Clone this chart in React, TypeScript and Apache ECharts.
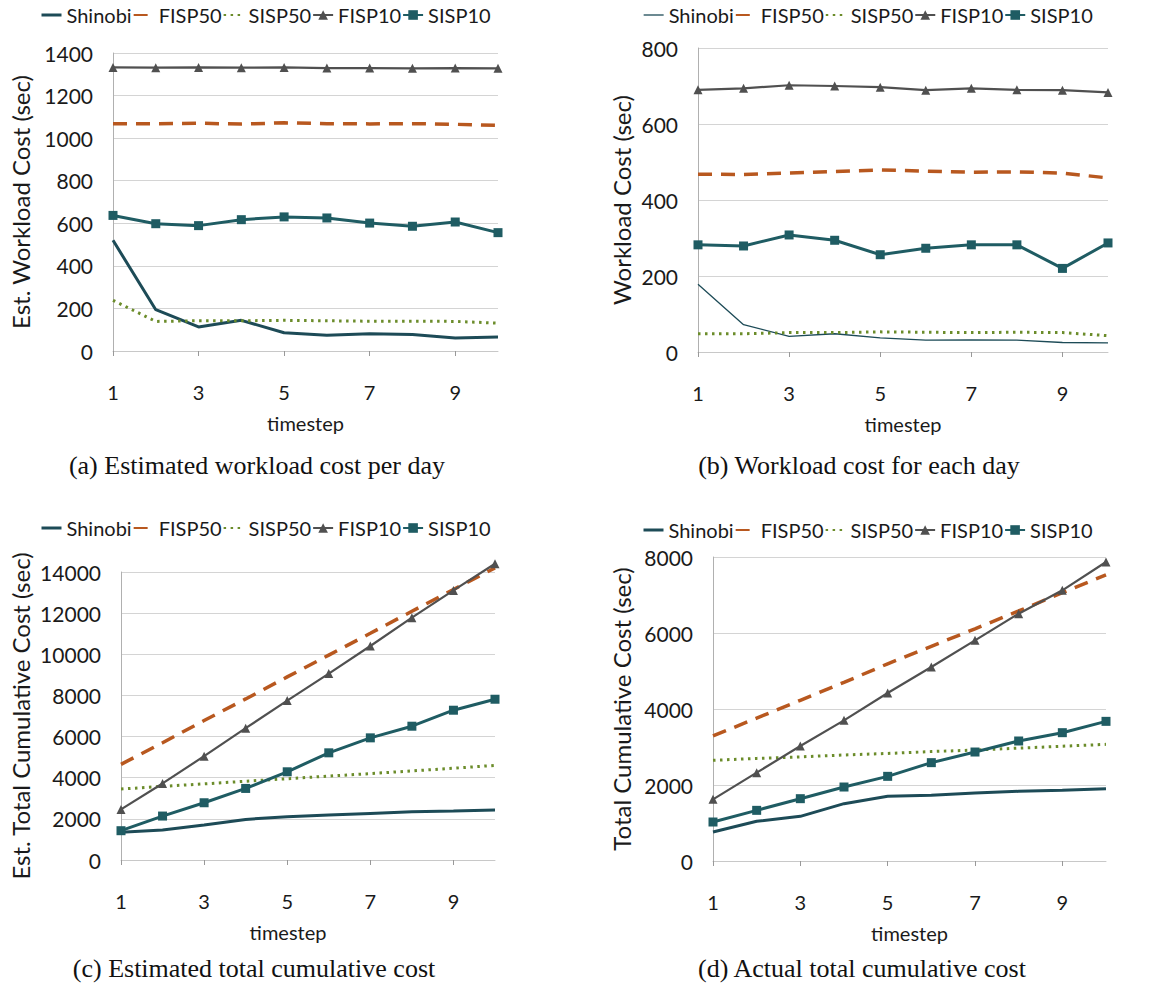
import React, { useEffect, useRef } from 'react';
import * as echarts from 'echarts';

// ---------- data ----------
const timesteps = ['1', '2', '3', '4', '5', '6', '7', '8', '9', '10'];
const seriesNames = ['Shinobi', 'FISP50', 'SISP50', 'FISP10', 'SISP10'];

// (a) Estimated workload cost per day
const estDailyShinobi = [520, 194, 113, 144, 86, 74, 81, 77, 61, 66];
const estDailyFISP50 = [1068, 1067, 1070, 1066, 1072, 1068, 1067, 1068, 1065, 1060];
const estDailySISP50 = [238, 139, 142, 142, 144, 142, 140, 140, 139, 131];
const estDailyFISP10 = [1332, 1331, 1332, 1331, 1332, 1329, 1329, 1328, 1329, 1328];
const estDailySISP10 = [637, 598, 589, 617, 630, 625, 601, 586, 606, 556];

// (b) Workload cost for each day
const actDailyShinobi = [178, 72, 41, 48, 37, 31, 32, 31, 25, 24];
const actDailyFISP50 = [468, 467, 471, 475, 479, 476, 473, 474, 471, 458];
const actDailySISP50 = [48, 48, 51, 51, 53, 52, 51, 52, 51, 43];
const actDailyFISP10 = [690, 694, 702, 700, 697, 689, 694, 690, 689, 683];
const actDailySISP10 = [282, 279, 308, 294, 256, 273, 282, 282, 220, 287];

// (c) Estimated total cumulative cost
const estCumShinobi = [1343, 1456, 1699, 1974, 2103, 2184, 2265, 2346, 2378, 2427];
const estCumFISP50 = [4650, 5700, 6780, 7830, 8900, 9960, 11020, 12090, 13150, 14200];
const estCumSISP50 = [3450, 3580, 3700, 3830, 3950, 4080, 4200, 4330, 4460, 4600];
const estCumFISP10 = [2459, 3721, 5048, 6407, 7750, 9061, 10404, 11779, 13106, 14400];
const estCumSISP10 = [1424, 2136, 2783, 3479, 4288, 5210, 5938, 6504, 7281, 7815];

// (d) Actual total cumulative cost
const actCumShinobi = [763, 1044, 1175, 1509, 1702, 1728, 1789, 1833, 1860, 1904];
const actCumFISP50 = [3290, 3760, 4230, 4700, 5190, 5650, 6110, 6580, 7060, 7530];
const actCumSISP50 = [2650, 2700, 2740, 2790, 2830, 2880, 2920, 2970, 3020, 3070];
const actCumFISP10 = [1623, 2325, 3026, 3702, 4421, 5105, 5807, 6509, 7123, 7868];
const actCumSISP10 = [1026, 1333, 1640, 1947, 2228, 2588, 2868, 3158, 3377, 3675];

// axis ranges [min, max, interval]
const yRangeA = [0, 1400, 200];
const yRangeB = [0, 800, 200];
const yRangeC = [0, 14000, 2000];
const yRangeD = [0, 8000, 2000];

const yNames = [
  'Est. Workload Cost (sec)',
  'Workload Cost (sec)',
  'Est. Total Cumulative Cost (sec)',
  'Total Cumulative Cost (sec)',
];
const xName = 'timestep';
const captions = [
  '(a) Estimated workload cost per day',
  '(b) Workload cost for each day',
  '(c) Estimated total cumulative cost',
  '(d) Actual total cumulative cost',
];

// ---------- styling / layout ----------
const SANS = 'Lato, "Open Sans", sans-serif';
const SERIF = '"Liberation Serif", "DejaVu Serif", serif';
const TEXT = '#1a1a1a';

const colors: Record<string, string> = {
  Shinobi: '#1d4b57',
  FISP50: '#b8581f',
  SISP50: '#6b8c2a',
  FISP10: '#505050',
  SISP10: '#1f5c63',
};

const panels = [
  {
    grid: { left: 113, top: 53, width: 385, height: 298 },
    range: yRangeA, nameGap: 81, legend: { left: 40, top: 5 }, shinobiWidth: 3,
    xNamePad: [0, 0, 0, 0],
    data: [estDailyShinobi, estDailyFISP50, estDailySISP50, estDailyFISP10, estDailySISP10],
    caption: { x: 257, y: 465 },
  },
  {
    grid: { left: 698, top: 48, width: 410, height: 304 },
    range: yRangeB, nameGap: 65, legend: { left: 643, top: 5 }, shinobiWidth: 1.3,
    xNamePad: [0, 0, 0, 0],
    data: [actDailyShinobi, actDailyFISP50, actDailySISP50, actDailyFISP10, actDailySISP10],
    caption: { x: 859, y: 465 },
  },
  {
    grid: { left: 121, top: 572, width: 374, height: 288 },
    range: yRangeC, nameGap: 89, legend: { left: 40, top: 518 }, shinobiWidth: 3,
    xNamePad: [0, 40, 0, 0],
    data: [estCumShinobi, estCumFISP50, estCumSISP50, estCumFISP10, estCumSISP10],
    caption: { x: 254, y: 968 },
  },
  {
    grid: { left: 713, top: 557, width: 393, height: 304 },
    range: yRangeD, nameGap: 80, legend: { left: 642, top: 520 }, shinobiWidth: 3,
    xNamePad: [0, 0, 0, 0],
    data: [actCumShinobi, actCumFISP50, actCumSISP50, actCumFISP10, actCumSISP10],
    caption: { x: 862, y: 968 },
  },
];

function seriesStyle(name: string, shinobiWidth: number) {
  switch (name) {
    case 'Shinobi':
      return { symbol: 'none', lineStyle: { color: colors.Shinobi, width: shinobiWidth } };
    case 'FISP50':
      return { symbol: 'none', lineStyle: { color: colors.FISP50, width: 3.5, type: [14, 9] } };
    case 'SISP50':
      return { symbol: 'none', lineStyle: { color: colors.SISP50, width: 3, type: [2.5, 4.5] } };
    case 'FISP10':
      return { symbol: 'triangle', symbolSize: 9, lineStyle: { color: colors.FISP10, width: 2.2 } };
    default:
      return { symbol: 'rect', symbolSize: 9, lineStyle: { color: colors.SISP10, width: 3 } };
  }
}

function buildOption() {
  const grid = panels.map((p) => ({ ...p.grid, containLabel: false }));
  const xAxis = panels.map((p, i) => ({
    type: 'category',
    gridIndex: i,
    data: timesteps,
    boundaryGap: false,
    name: xName,
    nameLocation: 'middle',
    nameGap: 62,
    nameTextStyle: { fontFamily: SANS, fontSize: 20, color: TEXT, padding: p.xNamePad },
    axisLine: { lineStyle: { color: '#c8c8c8', width: 1 } },
    axisTick: { show: true, interval: 1, length: 5, lineStyle: { color: '#999' } },
    axisLabel: { interval: 1, margin: 31, fontFamily: SANS, fontSize: 20, color: TEXT },
    splitLine: { show: false },
  }));
  const yAxis = panels.map((p, i) => ({
    type: 'value',
    gridIndex: i,
    min: p.range[0],
    max: p.range[1],
    interval: p.range[2],
    name: yNames[i],
    nameLocation: 'middle',
    nameGap: p.nameGap,
    nameTextStyle: { fontFamily: SANS, fontSize: 24, color: TEXT },
    axisLine: { show: true, lineStyle: { color: '#b0b0b0', width: 1 } },
    axisTick: { show: false },
    axisLabel: {
      margin: 20,
      fontFamily: SANS,
      fontSize: 21,
      color: TEXT,
      formatter: (v: number) => String(v),
    },
    splitLine: { show: true, lineStyle: { color: '#d4d4d4', width: 1 } },
  }));
  const series: any[] = [];
  panels.forEach((p, i) => {
    seriesNames.forEach((name, k) => {
      series.push({
        type: 'line',
        name,
        xAxisIndex: i,
        yAxisIndex: i,
        data: p.data[k],
        clip: false,
        z: name === 'SISP10' ? 5 : 3,
        itemStyle: { color: colors[name] },
        ...seriesStyle(name, p.shinobiWidth),
      });
    });
  });
  const legend = panels.map((p) => ({
    left: p.legend.left,
    top: p.legend.top,
    orient: 'horizontal',
    itemWidth: 20,
    itemHeight: 12,
    itemGap: 1,
    padding: 0,
    textStyle: { fontFamily: SANS, fontSize: 20, color: TEXT },
    data: seriesNames.map((n) => {
      if (n === 'Shinobi')
        return { name: n, itemStyle: { opacity: 0 }, lineStyle: { width: p.shinobiWidth } };
      if (n === 'FISP50' || n === 'SISP50')
        return { name: n, itemStyle: { opacity: 0 } };
      return { name: n };
    }),
  }));
  const graphic = panels.map((p, i) => ({
    type: 'text',
    x: p.caption.x,
    y: p.caption.y,
    style: {
      text: captions[i],
      fontFamily: SERIF,
      fontSize: 26,
      fill: '#111',
      textAlign: 'center',
      textVerticalAlign: 'middle',
    },
  }));
  return {
    animation: false,
    backgroundColor: '#ffffff',
    grid,
    xAxis,
    yAxis,
    series,
    legend,
    graphic,
  };
}

export default function App() {
  const ref = useRef<HTMLDivElement>(null);
  useEffect(() => {
    if (!ref.current) return;
    const chart = echarts.init(ref.current, undefined, { renderer: 'svg' });
    chart.setOption(buildOption() as any);
    return () => chart.dispose();
  }, []);
  return (
    <div
      ref={ref}
      style={{ position: 'absolute', left: 0, top: 0, width: 1175, height: 994, background: '#fff' }}
    />
  );
}
